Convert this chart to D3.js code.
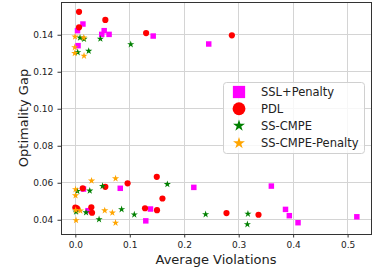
<!DOCTYPE html>
<html><head><meta charset="utf-8">
<script src="https://cdn.jsdelivr.net/npm/d3@7"></script>
<style>body{margin:0;background:#fff}svg{display:block}</style>
</head><body>
<script>
const seriesNames = ["SSL+Penalty", "PDL", "SS-CMPE", "SS-CMPE-Penalty"];

const sslX = [0.014, 0.004, 0.053, 0.0485, 0.062, 0.143, 0.245, 0.005,
              0.015, 0.0825, 0.2176, 0.0233, 0.138, 0.1294, 0.36, 0.386, 0.393, 0.409, 0.517];
const sslY = [0.1458, 0.1422, 0.1422, 0.1402, 0.1402, 0.1393, 0.135, 0.1341,
              0.0566, 0.057, 0.0575, 0.0449, 0.0458, 0.0394, 0.0582, 0.0456, 0.0422, 0.0384, 0.0416];

const pdlX = [0.0068, 0.0551, 0.0068, 0.13, 0.2875,
              0.0136, 0.0551, 0.096, 0.1496, 0.16, 0.0, 0.003, 0.0294, 0.0307, 0.128, 0.150, 0.2776, 0.3364];
const pdlY = [0.1524, 0.148, 0.144, 0.1409, 0.1397,
              0.057, 0.0578, 0.0597, 0.0632, 0.0515, 0.0466, 0.0462, 0.0467, 0.0438, 0.0462, 0.0452, 0.0436, 0.0427];

const cmpeX = [0.0086, 0.016, 0.046, 0.1018, 0.0044, 0.0246,
               0.0037, 0.0265, 0.05, 0.169, 0.0013, 0.0197, 0.0436, 0.085, 0.1083, 0.2393, 0.317, 0.316];
const cmpeY = [0.1384, 0.1377, 0.1378, 0.1348, 0.1305, 0.1312,
               0.0555, 0.0557, 0.0582, 0.0592, 0.0443, 0.0439, 0.0402, 0.0456, 0.0428, 0.0429, 0.0432, 0.0375];

const cmpePenX = [-0.0005, 0.0155, -0.001, -0.001, 0.016,
                  0.0004, 0.0298, 0.0739, 0.0004, 0.0007, 0.0092, 0.054, 0.068, 0.0739, 0.0013];
const cmpePenY = [0.1389, 0.1384, 0.1332, 0.130, 0.1286,
                  0.0564, 0.0611, 0.0623, 0.0531, 0.0452, 0.0449, 0.045, 0.0438, 0.0383, 0.0397];

const xTicks = [0.0, 0.1, 0.2, 0.3, 0.4, 0.5];
const yTicks = [0.04, 0.06, 0.08, 0.10, 0.12, 0.14];
const xLabel = "Average Violations";
const yLabel = "Optimality Gap";

const W = 379, H = 274;
const L = 61, R = 371, T = 2, B = 234;

const x = d3.scaleLinear().domain([-0.0263, 0.543]).range([L, R]);
const y = d3.scaleLinear().domain([0.0323, 0.1577]).range([B, T]);

const svg = d3.select("body").append("svg").attr("width", W).attr("height", H)
  .style("font-family", "'DejaVu Sans', sans-serif");

// grid
const grid = svg.append("g").attr("stroke", "#d4d4d4").attr("stroke-width", 1).attr("shape-rendering", "crispEdges");
xTicks.forEach(t => grid.append("line").attr("x1", x(t)).attr("x2", x(t)).attr("y1", T).attr("y2", B));
yTicks.forEach(t => grid.append("line").attr("y1", y(t)).attr("y2", y(t)).attr("x1", L).attr("x2", R));

// axes
const xa = svg.append("g").attr("transform", `translate(0,${B})`)
  .call(d3.axisBottom(x).tickValues(xTicks).tickFormat(d3.format(".1f")).tickSize(3.5).tickPadding(4.5));
const ya = svg.append("g").attr("transform", `translate(${L},0)`)
  .call(d3.axisLeft(y).tickValues(yTicks).tickFormat(d3.format(".2f")).tickSize(3.5).tickPadding(4.2));
[xa, ya].forEach(a => {
  a.select(".domain").remove();
  a.selectAll("text").attr("font-size", 9).attr("fill", "#222").attr("font-family", "'DejaVu Sans', sans-serif");
  a.selectAll("line").attr("stroke", "#333");
});

// series
const series = [
  {name: seriesNames[0], xs: sslX, ys: sslY, color: "#ff00ff", sym: d3.symbolSquare, size: 30, lsize: 150},
  {name: seriesNames[1], xs: pdlX, ys: pdlY, color: "#ff0000", sym: d3.symbolCircle, size: 30, lsize: 130},
  {name: seriesNames[2], xs: cmpeX, ys: cmpeY, color: "#008000", sym: d3.symbolStar, size: 16, lsize: 44},
  {name: seriesNames[3], xs: cmpePenX, ys: cmpePenY, color: "#ffa500", sym: d3.symbolStar, size: 16, lsize: 44}
];

series.forEach(s => {
  const g = svg.append("g");
  g.selectAll("path").data(s.xs.map((v, i) => [v, s.ys[i]])).join("path")
    .attr("d", d3.symbol().type(s.sym).size(s.size))
    .attr("transform", d => `translate(${x(d[0])},${y(d[1])})`)
    .attr("fill", s.color);
});

// frame
svg.append("rect").attr("x", L).attr("y", T).attr("width", R - L).attr("height", B - T)
  .attr("fill", "none").attr("stroke", "#333").attr("stroke-width", 1).attr("shape-rendering", "crispEdges");

// axis labels
svg.append("text").attr("x", (L + R) / 2).attr("y", 264).attr("text-anchor", "middle")
  .attr("font-size", 13).attr("fill", "#222").text(xLabel);
svg.append("text").attr("transform", `translate(28,${(T + B) / 2}) rotate(-90)`).attr("text-anchor", "middle")
  .attr("font-size", 13).attr("fill", "#222").text(yLabel);

// legend
const lg = svg.append("g");
lg.append("rect").attr("x", 223.5).attr("y", 82.5).attr("width", 141).attr("height", 71).attr("rx", 3)
  .attr("fill", "#fff").attr("fill-opacity", 0.8).attr("stroke", "#d0d0d0");
const rowsY = [92, 108.7, 125.7, 143.2];
series.forEach((s, i) => {
  lg.append("path").attr("d", d3.symbol().type(s.sym).size(s.lsize))
    .attr("transform", `translate(239,${rowsY[i]})`).attr("fill", s.color);
  lg.append("text").attr("x", 261).attr("y", rowsY[i]).attr("dy", "0.35em")
    .attr("font-size", 11.5).attr("fill", "#222").text(s.name);
});
</script>
</body></html>
